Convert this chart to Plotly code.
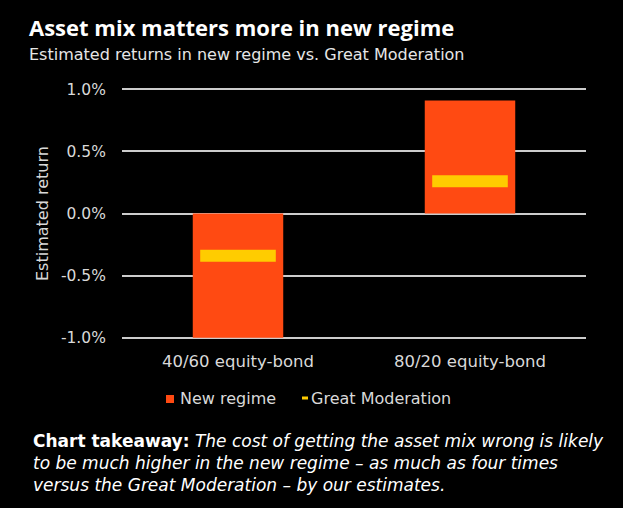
import plotly.graph_objects as go

categories = ["40/60 equity-bond", "80/20 equity-bond"]
new_regime = [-1.0, 0.91]
great_moderation = [-0.34, 0.26]
tick_vals = [-1.0, -0.5, 0.0, 0.5, 1.0]
tick_text = ["-1.0%", "-0.5%", "0.0%", "0.5%", "1.0%"]

ORANGE = "#FF4A12"
YELLOW = "#FFCC00"
FONT = "DejaVu Sans"
TITLE_FONT = "Open Sans"
TXT = "#e6e6e6"

fig = go.Figure()
fig.add_trace(go.Bar(x=categories, y=new_regime, width=0.39, marker=dict(color=ORANGE, line_width=0),
                     name="New regime", showlegend=False))
fig.add_trace(go.Scatter(x=categories, y=great_moderation, mode="markers",
                         marker=dict(symbol="line-ew", size=54, line=dict(color=YELLOW, width=12)),
                         name="Great Moderation", showlegend=False))

W, H = 623, 508
L, R, T, B = 122, 37, 88, 169

fig.update_layout(
    width=W, height=H,
    margin=dict(l=L, r=R, t=T, b=B, pad=0),
    paper_bgcolor="black", plot_bgcolor="black",
    font=dict(family=FONT, color=TXT),
    xaxis=dict(showgrid=False, showline=False, zeroline=False, ticks="outside", ticklen=7,
               tickcolor="rgba(0,0,0,0)", tickfont=dict(size=16.5, color="#d9d9d9")),
    yaxis=dict(range=[-1.01, 1.01], tickvals=tick_vals, ticktext=tick_text, showgrid=True,
               gridcolor="#cccccc", gridwidth=2, zeroline=True, zerolinecolor="#cccccc", zerolinewidth=2,
               ticks="outside", ticklen=12, tickcolor="rgba(0,0,0,0)",
               tickfont=dict(size=15.5, color="#d9d9d9")),
    showlegend=False,
)

def px_x(p):
    return (p - L) / (W - L - R)

def px_y(p):
    return 1 - (p - T) / (H - T - B)

ann = [
    dict(text="<b>Asset mix matters more in new regime</b>", x=px_x(27), y=px_y(27), xanchor="left",
         yanchor="middle", font=dict(size=22, color="white", family=TITLE_FONT)),
    dict(text="Estimated returns in new regime vs. Great Moderation", x=px_x(27), y=px_y(54),
         xanchor="left", yanchor="middle", font=dict(size=16, color=TXT)),
    dict(text="Estimated return", x=px_x(42), y=px_y(214), textangle=-90, xanchor="center",
         yanchor="middle", font=dict(size=16, color="#d9d9d9")),
    dict(text="New regime", x=px_x(178), y=px_y(398), xanchor="left", yanchor="middle",
         font=dict(size=16, color="#d9d9d9")),
    dict(text="Great Moderation", x=px_x(309), y=px_y(398), xanchor="left", yanchor="middle",
         font=dict(size=16, color="#d9d9d9")),
    dict(text="<b>Chart takeaway:</b> <i>The cost of getting the asset mix wrong is likely<br>"
              "to be much higher in the new regime – as much as four times<br>"
              "versus the Great Moderation – by our estimates.</i>",
         x=px_x(31), y=px_y(429), xanchor="left", yanchor="top", align="left",
         font=dict(size=17, color="white")),
]
for a in ann:
    a.update(xref="paper", yref="paper", showarrow=False)
fig.update_layout(annotations=ann)

fig.update_layout(shapes=[
    dict(type="rect", xref="paper", yref="paper", x0=px_x(166), x1=px_x(174), y0=px_y(403), y1=px_y(395),
         fillcolor=ORANGE, line_width=0),
    dict(type="rect", xref="paper", yref="paper", x0=px_x(302), x1=px_x(308), y0=px_y(399.5), y1=px_y(396.5),
         fillcolor=YELLOW, line_width=0),
])

fig.write_html("out.html", config={"displayModeBar": False},
               post_script="document.body.style.margin='0';document.body.style.background='black';")
